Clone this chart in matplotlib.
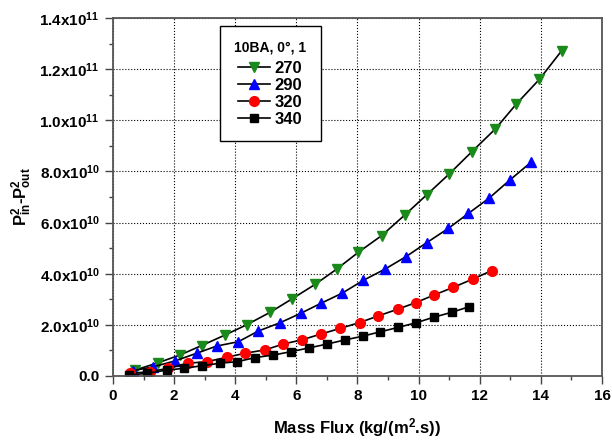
import numpy as np
import matplotlib
matplotlib.use('Agg')
import matplotlib.pyplot as plt
from matplotlib.ticker import MultipleLocator, FuncFormatter

plt.rcParams['font.family'] = ['Liberation Sans', 'DejaVu Sans']
plt.rcParams['font.weight'] = 'bold'
plt.rcParams['mathtext.fontset'] = 'custom'
plt.rcParams['mathtext.rm'] = 'Liberation Sans:bold'
plt.rcParams['mathtext.default'] = 'rm'

# Data (mass flux, P_in^2 - P_out^2 in units of 1e9)
x_270 = [0.72, 1.48, 2.19, 2.90, 3.66, 4.37, 5.14, 5.85, 6.61, 7.32,
         8.03, 8.79, 9.55, 10.26, 11.00, 11.74, 12.50, 13.20, 13.95, 14.68]
y_270 = [2.3, 5.2, 8.2, 11.9, 16.0, 20.0, 24.9, 30.1, 35.8, 41.8,
         48.4, 54.9, 63.0, 70.8, 79.0, 87.7, 96.5, 106.4, 116.0, 127.2]

x_290 = [0.67, 1.32, 2.03, 2.74, 3.39, 4.10, 4.76, 5.46, 6.14, 6.80,
         7.50, 8.19, 8.90, 9.59, 10.26, 10.97, 11.63, 12.30, 12.99, 13.67]
y_290 = [2.1, 3.6, 5.9, 8.9, 11.7, 13.4, 17.6, 20.8, 24.5, 28.4,
         32.4, 37.4, 41.8, 46.7, 52.1, 57.7, 63.6, 69.5, 76.7, 83.5]

x_320 = [0.56, 1.21, 1.81, 2.46, 3.07, 3.72, 4.32, 4.97, 5.57, 6.17,
         6.80, 7.43, 8.07, 8.68, 9.31, 9.91, 10.51, 11.14, 11.77, 12.39]
y_320 = [1.0, 1.7, 3.0, 5.0, 5.6, 7.3, 8.9, 10.2, 12.5, 14.1,
         16.4, 18.6, 20.9, 23.5, 26.1, 28.7, 31.7, 34.7, 37.9, 41.2]

x_340 = [0.52, 1.10, 1.76, 2.32, 2.90, 3.50, 4.07, 4.65, 5.25, 5.82,
         6.42, 7.01, 7.59, 8.18, 8.75, 9.33, 9.91, 10.50, 11.08, 11.66]
y_340 = [0.4, 1.0, 2.3, 3.0, 4.0, 5.0, 5.6, 7.2, 8.2, 9.5,
         11.0, 12.5, 14.1, 15.6, 17.3, 19.0, 20.8, 23.0, 24.9, 27.1]

series = [
    ('270', x_270, y_270, 'v', '#1a8a1a', 7.5),
    ('290', x_290, y_290, '^', '#0000ff', 7.5),
    ('320', x_320, y_320, 'o', '#ff0000', 7),
    ('340', x_340, y_340, 's', '#000000', 5.5),
]

fig = plt.figure(figsize=(6.12, 4.41), dpi=100)
ax = fig.add_axes([0.1846, 0.1474, 0.7991, 0.8118])

for label, xs, ys, m, c, ms in series:
    ax.plot(xs, np.array(ys) * 1e9, color='k', lw=1.2, marker=m, ms=ms,
            markerfacecolor=c, markeredgecolor=c, label=label)

ax.set_xlim(0, 16)
ax.set_ylim(0, 1.4e11)
ax.xaxis.set_major_locator(MultipleLocator(2))
ax.xaxis.set_minor_locator(MultipleLocator(1))
ax.yaxis.set_major_locator(MultipleLocator(2e10))
ax.yaxis.set_minor_locator(MultipleLocator(1e10))


def yfmt(v, pos):
    if v <= 0:
        return '0.0' if abs(v) < 1 else ''
    e = int(np.floor(np.log10(v)))
    return '%.1fx10$^{%d}$' % (v / 10 ** e, e)


ax.yaxis.set_major_formatter(FuncFormatter(yfmt))
ax.tick_params(which='both', direction='out', labelsize=11, color='#444')
ax.tick_params(which='major', length=6, width=1)
ax.tick_params(which='minor', length=3, width=1)
ax.grid(True, which='major', linestyle=':', color='k', lw=0.8)

for s in ax.spines.values():
    s.set_color('#555555')
    s.set_linewidth(1.3)

ax.set_xlabel('Mass Flux (kg/(m$^2$.s))', fontsize=12, fontweight='bold', labelpad=9)
ax.set_ylabel('P$^2_{in}$-P$^2_{out}$', fontsize=12, fontweight='bold', labelpad=4)

leg = ax.legend(title='10BA, 0°, 1', loc='upper left', bbox_to_anchor=(0.219, 0.978),
                borderaxespad=0, fontsize=12, title_fontsize=10, fancybox=False,
                framealpha=1, edgecolor='k', handlelength=1.9, labelspacing=0.12,
                borderpad=0.85, handletextpad=0.3)
leg.get_title().set_fontweight('bold')
leg.get_frame().set_linewidth(1.0)
leg._legend_box.sep = 5

fig.savefig('out.png', dpi=100)
